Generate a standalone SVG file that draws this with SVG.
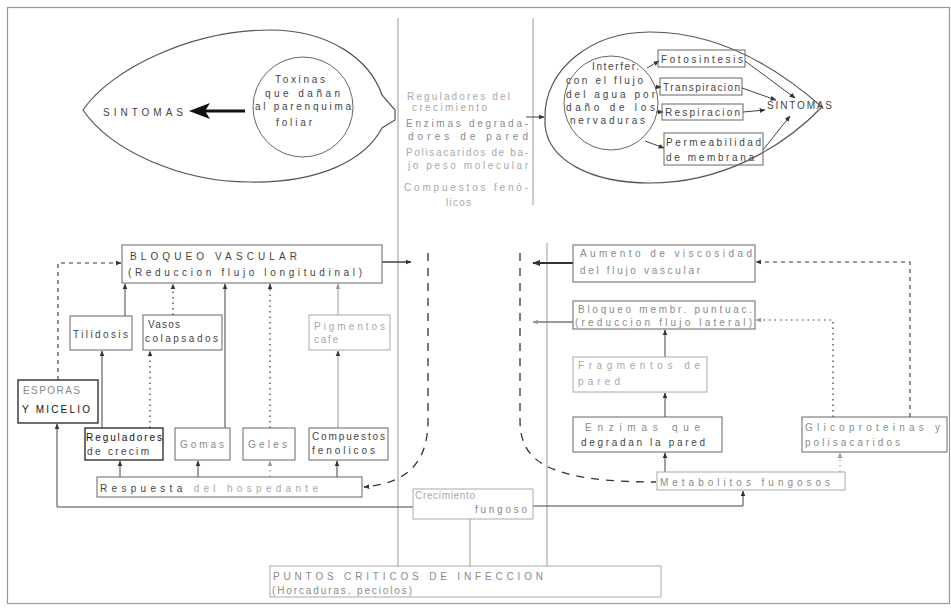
<svg xmlns="http://www.w3.org/2000/svg" width="951" height="609" viewBox="0 0 951 609">
<defs>
<style>
text{font-family:"Liberation Sans","DejaVu Sans",sans-serif;font-size:10px;fill:#444}
.g{fill:#8a8a8a}
.lg{fill:#a8a8a8}
.b{fill:#111}
.box{fill:none;stroke:#666;stroke-width:1}
.boxk{fill:none;stroke:#222;stroke-width:1.3}
.boxg{fill:none;stroke:#aaa;stroke-width:1}
.ln{fill:none;stroke:#444;stroke-width:1}
.lng{fill:none;stroke:#999;stroke-width:1}
.dot{fill:none;stroke:#333;stroke-width:1.2;stroke-dasharray:1.5 4}
.dotg{fill:none;stroke:#999;stroke-width:1.2;stroke-dasharray:1.5 4}
.dash{fill:none;stroke:#333;stroke-width:1.1;stroke-dasharray:4 4}
.ldash{fill:none;stroke:#333;stroke-width:1.3;stroke-dasharray:8 7}
.leaf{fill:none;stroke:#555;stroke-width:1.2}
</style>
<marker id="ah" viewBox="0 0 10 10" refX="9" refY="5" markerWidth="6" markerHeight="6" orient="auto-start-reverse" markerUnits="userSpaceOnUse"><path d="M0,1 L10,5 L0,9 z" fill="#333"/></marker>
<marker id="ahg" viewBox="0 0 10 10" refX="9" refY="5" markerWidth="6" markerHeight="6" orient="auto-start-reverse" markerUnits="userSpaceOnUse"><path d="M0,1 L10,5 L0,9 z" fill="#999"/></marker>
<marker id="ahb" viewBox="0 0 10 10" refX="9" refY="5" markerWidth="8" markerHeight="8" orient="auto-start-reverse" markerUnits="userSpaceOnUse"><path d="M0,1 L10,5 L0,9 z" fill="#333"/></marker>
</defs>
<rect x="0" y="0" width="951" height="609" fill="#fff"/>
<rect x="7.5" y="7.5" width="942" height="596" fill="none" stroke="#999" stroke-width="1.2"/>

<g id="connectors">
<line x1="398" y1="18" x2="398" y2="566" class="lng"/>
<line x1="533" y1="18" x2="533" y2="205" class="lng"/>
<line x1="547" y1="243" x2="547" y2="566" class="lng"/>
<line x1="245" y1="111" x2="204" y2="111" stroke="#111" stroke-width="3"/>
<path d="M189 111 L210 103 L205 111 L210 119 Z" fill="#111"/>
<line x1="526" y1="117" x2="544" y2="117" class="ln" marker-end="url(#ah)"/>
<line x1="647" y1="68" x2="659" y2="61" class="ln" marker-end="url(#ah)"/>
<line x1="655" y1="87" x2="661" y2="87" class="ln" marker-end="url(#ah)"/>
<line x1="656" y1="112" x2="663" y2="112" class="ln" marker-end="url(#ah)"/>
<line x1="645" y1="141" x2="664" y2="148" class="ln" marker-end="url(#ah)"/>
<line x1="745" y1="61" x2="795" y2="98" class="ln" marker-end="url(#ah)"/>
<line x1="742" y1="88" x2="776" y2="100" class="ln" marker-end="url(#ah)"/>
<line x1="743" y1="112" x2="765" y2="110" class="ln" marker-end="url(#ah)"/>
<line x1="763" y1="150" x2="790" y2="116" class="ln" marker-end="url(#ah)"/>

<line x1="382" y1="262" x2="411" y2="262" stroke="#222" stroke-width="1.3" marker-end="url(#ah)"/>
<path d="M58 380 V263 H121" class="dash" marker-end="url(#ah)"/>
<path d="M125 316 V284" class="ln" marker-end="url(#ah)"/>
<path d="M173 315 V284" class="dot" marker-end="url(#ah)"/>
<path d="M225 428 V284" class="ln" marker-end="url(#ah)"/>
<path d="M270 428 V284" class="dot" marker-end="url(#ah)"/>
<path d="M338 315 V284" class="lng" marker-end="url(#ahg)"/>
<path d="M102 428 V351" class="ln" marker-end="url(#ah)"/>
<path d="M150 428 V351" class="dot" marker-end="url(#ah)"/>
<path d="M338 428 V351" class="lng" marker-end="url(#ah)"/>
<path d="M120 477 V461" class="ln" marker-end="url(#ah)"/>
<path d="M198 477 V461" class="ln" marker-end="url(#ah)"/>
<path d="M270 477 V461" class="dotg" marker-end="url(#ahg)"/>
<path d="M337 477 V461" class="ln" marker-end="url(#ah)"/>
<path d="M413 507 H57 V424" class="ln" marker-end="url(#ah)"/>
<path d="M470 519 V566" class="lng"/>
<path d="M533 506 H743 V491" class="ln" marker-end="url(#ah)"/>
<path d="M428 253 V420 C428 460 410 483 364 487" class="ldash" marker-end="url(#ah)"/>
<path d="M520 253 V420 C520 460 545 482 656 482" class="ldash"/>
<line x1="573" y1="263" x2="533" y2="263" stroke="#333" stroke-width="2" marker-end="url(#ahb)"/>
<line x1="573" y1="322" x2="533" y2="322" stroke="#777" stroke-width="1.5" marker-end="url(#ahg)"/>
<path d="M665 357 V330" class="ln" marker-end="url(#ah)"/>
<path d="M665 417 V393" class="ln" marker-end="url(#ah)"/>
<path d="M665 472 V453" class="ln" marker-end="url(#ah)"/>
<path d="M840 472 V453" class="dotg" marker-end="url(#ahg)"/>
<path d="M833 417 V320 H756" class="dot" marker-end="url(#ahg)"/>
<path d="M910 417 V262 H756" class="dash" marker-end="url(#ah)"/>
</g>

<g id="leaf-left">
<path class="leaf" d="M83 110 C110 70 190 30 270 30 C330 30 370 60 382 95 L395 110 L395 120 L382 128 C365 160 320 183 250 182 C180 182 110 150 83 110 Z"/>
<text x="103" y="116" textLength="80" lengthAdjust="spacing" font-size="12">SINTOMAS</text>
</g>
<g id="toxinas">
<circle cx="303" cy="107" r="50" class="box"/>
<text x="275" y="83" textLength="50" lengthAdjust="spacing">Toxinas</text>
<text x="265" y="97" textLength="75" lengthAdjust="spacing">que dañan</text>
<text x="255" y="110" textLength="96" lengthAdjust="spacing">al parenquima</text>
<text x="276" y="126" textLength="36" lengthAdjust="spacing">foliar</text>
</g>
<g id="centro">
<text class="lg" x="407" y="100" textLength="103" lengthAdjust="spacing">Reguladores del</text>
<text class="lg" x="412" y="111" textLength="75" lengthAdjust="spacing">crecimiento</text>
<text class="g" x="406" y="127" textLength="122" lengthAdjust="spacing">Enzimas degrada-</text>
<text class="g" x="408" y="140" textLength="120" lengthAdjust="spacing">dores de pared</text>
<text class="lg" x="406" y="156" textLength="122" lengthAdjust="spacing">Polisacaridos de ba-</text>
<text class="lg" x="408" y="169" textLength="120" lengthAdjust="spacing">jo peso molecular</text>
<text class="lg" x="404" y="191" textLength="124" lengthAdjust="spacing">Compuestos fenó-</text>
<text class="lg" x="446" y="206" textLength="25" lengthAdjust="spacing">licos</text>
</g>
<g id="leaf-right">
<path class="leaf" d="M545 116 C545 70 590 32 650 32 C720 32 780 70 822 107 C780 150 720 183 650 183 C590 183 548 160 545 125 Z"/>
<text x="767" y="109" textLength="65" lengthAdjust="spacing">SINTOMAS</text>
</g>
<g id="interfer">
<circle cx="611" cy="103" r="47" class="box"/>
<text x="592" y="70" textLength="47" lengthAdjust="spacing">Interfer.</text>
<text x="566" y="84" textLength="77" lengthAdjust="spacing">con el flujo</text>
<text x="566" y="98" textLength="89" lengthAdjust="spacing">del agua por</text>
<text x="566" y="111" textLength="89" lengthAdjust="spacing">daño de los</text>
<text x="570" y="124" textLength="75" lengthAdjust="spacing">nervaduras</text>
</g>
<g id="fotosintesis"><rect x="658" y="50" width="87" height="17" class="box"/><text x="661" y="63" textLength="82" lengthAdjust="spacing">Fotosintesis</text></g>
<g id="transpiracion"><rect x="660" y="78" width="82" height="17" class="box"/><text x="663" y="91" textLength="77" lengthAdjust="spacing">Transpiracion</text></g>
<g id="respiracion"><rect x="662" y="104" width="81" height="16" class="box"/><text x="665" y="116" textLength="75" lengthAdjust="spacing">Respiracion</text></g>
<g id="permeabilidad"><rect x="664" y="133" width="99" height="32" class="box"/><text x="666" y="146" textLength="95" lengthAdjust="spacing">Permeabilidad</text><text x="666" y="161" textLength="88" lengthAdjust="spacing">de membrana</text></g>

<g id="bloqueo-vascular"><rect x="122" y="245" width="260" height="38" class="box"/><text x="130" y="260" textLength="167" lengthAdjust="spacing">BLOQUEO  VASCULAR</text><text x="128" y="276" textLength="234" lengthAdjust="spacing">(Reduccion flujo longitudinal)</text></g>
<g id="tilidosis"><rect x="70" y="316" width="62" height="34" class="box"/><text x="73" y="338" textLength="55" lengthAdjust="spacing">Tilidosis</text></g>
<g id="vasos"><rect x="143" y="315" width="79" height="35" class="box"/><text x="148" y="328" textLength="32" lengthAdjust="spacing">Vasos</text><text x="145" y="342" textLength="73" lengthAdjust="spacing">colapsados</text></g>
<g id="pigmentos"><rect x="309" y="315" width="81" height="35" class="boxg"/><text class="lg" x="314" y="330" textLength="71" lengthAdjust="spacing">Pigmentos</text><text class="lg" x="314" y="343" textLength="24" lengthAdjust="spacing">cafe</text></g>
<g id="esporas"><rect x="18" y="380" width="80" height="43" class="boxk"/><text class="g" x="23" y="394" textLength="57" lengthAdjust="spacing">ESPORAS</text><text class="b" x="22" y="413" textLength="68" lengthAdjust="spacing">Y MICELIO</text></g>
<g id="reguladores"><rect x="85" y="428" width="78" height="32" class="boxk"/><text class="b" x="86" y="441" textLength="76" lengthAdjust="spacing">Reguladores</text><text x="87" y="455" textLength="62" lengthAdjust="spacing">de crecim</text></g>
<g id="gomas"><rect x="175" y="428" width="55" height="32" class="box"/><text class="g" x="180" y="448" textLength="44" lengthAdjust="spacing">Gomas</text></g>
<g id="geles"><rect x="243" y="428" width="52" height="32" class="box"/><text class="g" x="248" y="448" textLength="39" lengthAdjust="spacing">Geles</text></g>
<g id="compuestos"><rect x="309" y="428" width="79" height="32" class="box"/><text x="312" y="440" textLength="73" lengthAdjust="spacing">Compuestos</text><text x="312" y="454" textLength="63" lengthAdjust="spacing">fenolicos</text></g>
<g id="respuesta"><rect x="97" y="477" width="265" height="20" class="box"/><text x="100" y="492" textLength="218" lengthAdjust="spacing">Respuesta <tspan class="lg">del hospedante</tspan></text></g>
<g id="crecimiento"><rect x="413" y="489" width="120" height="30" class="boxg"/><text class="lg" x="415" y="499" textLength="60" lengthAdjust="spacing">Crecimiento</text><text class="g" x="475" y="513" textLength="52" lengthAdjust="spacing">fungoso</text></g>
<g id="puntos"><rect x="270" y="566" width="391" height="31" class="boxg"/><text class="g" x="273" y="580" textLength="270" lengthAdjust="spacing">PUNTOS CRITICOS DE INFECCION</text><text class="g" x="272" y="594" textLength="140" lengthAdjust="spacing">(Horcaduras, peciolos)</text></g>

<g id="aumento"><rect x="573" y="245" width="182" height="37" class="box"/><text class="g" x="580" y="257" textLength="172" lengthAdjust="spacing">Aumento de viscosidad</text><text class="g" x="580" y="274" textLength="120" lengthAdjust="spacing">del flujo vascular</text></g>
<g id="bloqueo-membr"><rect x="573" y="301" width="182" height="28" class="box"/><text class="g" x="578" y="313" textLength="174" lengthAdjust="spacing">Bloqueo membr. puntuac.</text><text class="g" x="575" y="326" textLength="177" lengthAdjust="spacing">(reduccion flujo lateral)</text></g>
<g id="fragmentos"><rect x="573" y="357" width="134" height="35" class="boxg"/><text class="lg" x="578" y="369" textLength="122" lengthAdjust="spacing">Fragmentos de</text><text class="lg" x="578" y="385" textLength="42" lengthAdjust="spacing">pared</text></g>
<g id="enzimas"><rect x="573" y="417" width="149" height="35" class="box"/><text class="g" x="585" y="431" textLength="115" lengthAdjust="spacing">Enzimas que</text><text x="581" y="446" textLength="124" lengthAdjust="spacing">degradan la pared</text></g>
<g id="glicoproteinas"><rect x="802" y="417" width="145" height="35" class="box"/><text class="g" x="805" y="431" textLength="135" lengthAdjust="spacing">Glicoproteinas y</text><text class="g" x="805" y="446" textLength="95" lengthAdjust="spacing">polisacaridos</text></g>
<g id="metabolitos"><rect x="657" y="472" width="188" height="18" class="boxg"/><text class="g" x="660" y="486" textLength="170" lengthAdjust="spacing">Metabolitos fungosos</text></g>
</svg>
